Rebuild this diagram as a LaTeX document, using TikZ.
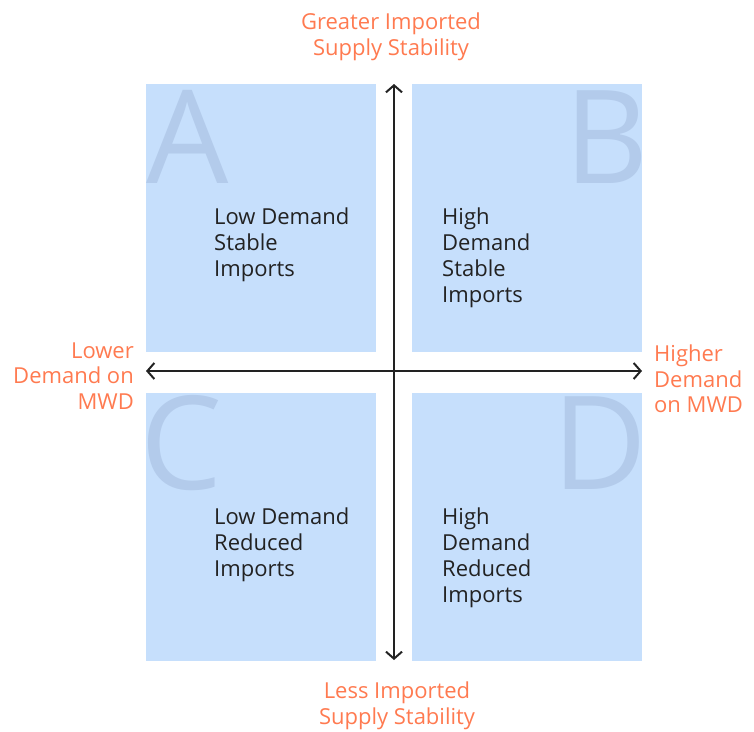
\documentclass[tikz,border=0pt]{standalone}
\usepackage{fontspec}
\setmainfont{Open Sans}
\usetikzlibrary{positioning}
\usetikzlibrary{arrows.meta}
\definecolor{quadblue}{HTML}{C6DFFC}
\definecolor{letterblue}{HTML}{B3CBEB}
\definecolor{axisorange}{HTML}{FF7A50}
\definecolor{textdark}{HTML}{222222}
\tikzset{
    quadbox/.style = {rectangle, draw=none, fill=quadblue, minimum width=230pt, minimum height=268pt, inner sep=0pt, anchor=north west},
    quadletter/.style = {inner sep=0pt, text=letterblue, font=\fontsize{130}{130}\selectfont},
    quadtext/.style = {inner sep=0pt, anchor=west, align=left, text=textdark, font=\fontsize{22}{26}\selectfont},
    axislabel/.style = {inner sep=0pt, text=axisorange, font=\fontsize{22}{25.5}\selectfont},
    axisline/.style = {{Straight Barb[length=7pt,width=16pt]}-{Straight Barb[length=7pt,width=16pt]}, line width=2pt, textdark},
}
\begin{document}
\begin{tikzpicture}[x=1pt,y=-1pt]
\useasboundingbox (0,0) rectangle (754,731);
\node[quadbox] at (146,84) (qa) {};
\node[quadbox] at (412,84) (qb) {};
\node[quadbox] at (146,393) (qc) {};
\node[quadbox] at (412,393) (qd) {};
%
\node[quadletter, anchor=base west] at (146,183) (la) {A};
\node[quadletter, anchor=base east] at (649,183) (lb) {B};
\node[quadletter, anchor=base west] at (140,489) (lc) {C};
\node[quadletter, anchor=base east] at (647,489) (ld) {D};
%
\node[quadtext] at (214,245) (ta) {Low Demand\\Stable\\Imports};
\node[quadtext] at (442,258) (tb) {High\\Demand\\Stable\\Imports};
\node[quadtext] at (214,545) (tc) {Low Demand\\Reduced\\Imports};
\node[quadtext] at (442,558) (td) {High\\Demand\\Reduced\\Imports};
%
\node[axislabel, align=center] at (391,37) (top) {Greater Imported\\Supply Stability};
\node[axislabel, align=center] at (397,706) (bottom) {Less Imported\\Supply Stability};
\node[axislabel, align=right, anchor=east] at (134,376) (left) {Lower\\Demand on\\MWD};
\node[axislabel, align=left, anchor=west] at (654,379) (right) {Higher\\Demand\\on MWD};
%
\coordinate (vtop) at (394,84);
\coordinate (vbot) at (394,660);
\coordinate (hleft) at (146,371);
\coordinate (hright) at (642,371);
\draw[axisline] (vbot) -- (vtop);
\draw[axisline] (hleft) -- (hright);
\end{tikzpicture}
\end{document}
